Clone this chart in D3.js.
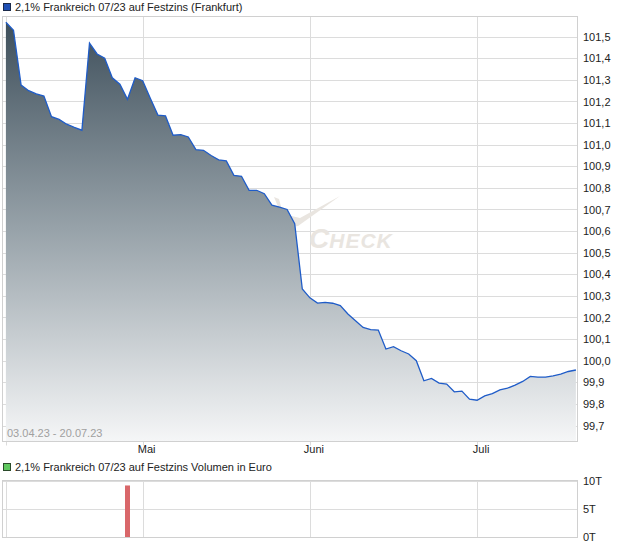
<!DOCTYPE html>
<html><head><meta charset="utf-8">
<script src="https://cdn.jsdelivr.net/npm/d3@7"></script>
<style>html,body{margin:0;padding:0;background:#fff;}svg{display:block;font-family:"Liberation Sans",Arial,sans-serif;}</style>
</head><body>
<svg id="c" width="620" height="546"></svg>
<script>
const title = "2,1% Frankreich 07/23 auf Festzins (Frankfurt)";
const volTitle = "2,1% Frankreich 07/23 auf Festzins Volumen in Euro";
const rangeLabel = "03.04.23 - 20.07.23";
const dates = [
 "03.04.23","04.04.23","05.04.23","06.04.23","11.04.23","12.04.23","13.04.23","14.04.23","17.04.23","18.04.23",
 "19.04.23","20.04.23","21.04.23","24.04.23","25.04.23","26.04.23","27.04.23","28.04.23",
 "02.05.23","03.05.23","04.05.23","05.05.23","08.05.23","09.05.23","10.05.23","11.05.23","12.05.23","15.05.23",
 "16.05.23","17.05.23","18.05.23","19.05.23","22.05.23","23.05.23","24.05.23","25.05.23","26.05.23","29.05.23",
 "30.05.23","31.05.23",
 "01.06.23","02.06.23","05.06.23","06.06.23","07.06.23","08.06.23","09.06.23","12.06.23","13.06.23","14.06.23",
 "15.06.23","16.06.23","19.06.23","20.06.23","21.06.23","22.06.23","23.06.23","26.06.23","27.06.23","28.06.23",
 "29.06.23","30.06.23",
 "03.07.23","04.07.23","05.07.23","06.07.23","07.07.23","10.07.23","11.07.23","12.07.23","13.07.23","14.07.23",
 "17.07.23","18.07.23","19.07.23","20.07.23"];
const prices = [
 101.567,101.530,101.276,101.250,101.235,101.225,101.130,101.117,101.095,101.080,
 101.067,101.470,101.420,101.400,101.310,101.280,101.210,101.310,
 101.296,101.215,101.137,101.133,101.044,101.047,101.036,100.977,100.974,100.950,
 100.930,100.925,100.858,100.854,100.789,100.789,100.773,100.720,100.711,100.700,
 100.634,100.332,
 100.291,100.267,100.270,100.266,100.255,100.216,100.185,100.154,100.144,100.142,
 100.054,100.065,100.046,100.031,100.000,99.907,99.918,99.896,99.892,99.856,
 99.859,99.822,
 99.817,99.837,99.848,99.865,99.873,99.887,99.904,99.927,99.924,99.924,
 99.930,99.938,99.950,99.957];
const volumes = [
 0,0,0,0,0,0,0,0,0,0, 0,0,0,0,0,0,9200,0,
 0,0,0,0,0,0,0,0,0,0, 0,0,0,0,0,0,0,0,0,0, 0,0,
 0,0,0,0,0,0,0,0,0,0, 0,0,0,0,0,0,0,0,0,0, 0,0,
 0,0,0,0,0,0,0,0,0,0, 0,0,0,0];
const priceTicks = [101.5,101.4,101.3,101.2,101.1,101.0,100.9,100.8,100.7,100.6,100.5,100.4,100.3,100.2,100.1,100.0,99.9,99.8,99.7];
const monthNames = ["April","Mai","Juni","Juli"];
const volTicks = [0,5000,10000];
const volTickLabels = ["0T","5T","10T"];

const svg = d3.select("#c");
const L = 2.5, R = 577.5, T = 16.5, B = 441.5;
const VT = 480.5, VB = 537.5;

const x = d3.scalePoint().domain(dates).range([5.9, 575.9]);
const y = d3.scaleLinear().domain([99.7, 101.5]).range([425.5, 36.7]);
const yv = d3.scaleLinear().domain([0, 10000]).range([537, 481]);

// month starts
const monthStarts = [];
dates.forEach((d, i) => {
  const m = +d.slice(3,5);
  if (i === 0 || m !== +dates[i-1].slice(3,5)) monthStarts.push({d, label: monthNames[m-4], first: i === 0});
});

const fmt = v => d3.format(".1f")(v).replace(".", ",");

// legend 1
svg.append("rect").attr("x",3.5).attr("y",3.5).attr("width",7).attr("height",7).attr("fill","#1f4fb4").attr("stroke","#1b2a4a");
svg.append("text").attr("x",15).attr("y",11).attr("font-size",11).attr("fill","#222").text(title);

// grid main
const g = svg.append("g");
g.selectAll("line.h").data(priceTicks).join("line")
  .attr("x1",L).attr("x2",R).attr("y1",d=>Math.round(y(d))+0.5).attr("y2",d=>Math.round(y(d))+0.5)
  .attr("stroke","#dcdcdc");
g.selectAll("line.v").data(monthStarts).join("line")
  .attr("x1",d=>Math.round(x(d.d))+0.5).attr("x2",d=>Math.round(x(d.d))+0.5).attr("y1",T).attr("y2",B+4)
  .attr("stroke","#dcdcdc");

// watermark
const wm = svg.append("g").attr("fill","#e9e5e0");
wm.append("path").attr("d","M274,197 L279,199 L283,214 L300,218 L340,196 L298,226 L287,228 Z");
const wt = wm.append("text").attr("x",309).attr("y",248).attr("font-style","italic").attr("font-weight","bold");
wt.append("tspan").attr("font-size",28).text("C");
wt.append("tspan").attr("font-size",21).attr("letter-spacing",1).text("HECK");

// gradient
const defs = svg.append("defs");
const grad = defs.append("linearGradient").attr("id","ag").attr("gradientUnits","userSpaceOnUse")
  .attr("x1",0).attr("y1",16).attr("x2",0).attr("y2",441);
grad.append("stop").attr("offset",0).attr("stop-color","#3c4d59");
grad.append("stop").attr("offset",0.5).attr("stop-color","#97a2a9");
grad.append("stop").attr("offset",1).attr("stop-color","#f5f6f7");

const area = d3.area().x((d,i)=>x(dates[i])).y0(B).y1(d=>y(d));
svg.append("path").datum(prices).attr("d",area).attr("fill","url(#ag)");
const line = d3.line().x((d,i)=>x(dates[i])).y(d=>y(d));
svg.append("path").datum(prices).attr("d",line).attr("fill","none").attr("stroke","#1f5cc8").attr("stroke-width",1.3);

// frame main
svg.append("rect").attr("x",L).attr("y",T).attr("width",R-L).attr("height",B-T).attr("fill","none").attr("stroke","#d0d0d0");

// y labels
svg.selectAll("text.yl").data(priceTicks).join("text").attr("class","yl")
  .attr("x",583).attr("y",d=>y(d)+4).attr("font-size",11).attr("fill","#222").text(fmt);

// range label
svg.append("text").attr("x",7).attr("y",437).attr("font-size",11).attr("fill","#a0a0a0").text(rangeLabel);

// month labels
svg.selectAll("text.ml").data(monthStarts.filter(d=>!d.first)).join("text").attr("class","ml")
  .attr("x",d=>x(d.d)+4).attr("y",453).attr("text-anchor","middle").attr("font-size",11).attr("fill","#222").text(d=>d.label);

// volume legend
svg.append("rect").attr("x",3.5).attr("y",463.5).attr("width",7).attr("height",7).attr("fill","#5fc85f").attr("stroke","#2a4a2a");
svg.append("text").attr("x",15).attr("y",471).attr("font-size",11).attr("fill","#222").text(volTitle);

// volume grid
const vg = svg.append("g");
vg.selectAll("line").data(volTicks).join("line")
  .attr("x1",L).attr("x2",R).attr("y1",d=>Math.round(yv(d))+0.5).attr("y2",d=>Math.round(yv(d))+0.5).attr("stroke","#dcdcdc");
svg.append("g").selectAll("line").data(monthStarts).join("line")
  .attr("x1",d=>Math.round(x(d.d))+0.5).attr("x2",d=>Math.round(x(d.d))+0.5).attr("y1",VT).attr("y2",VB)
  .attr("stroke","#dcdcdc");

// volume bars
svg.selectAll("rect.vb").data(volumes.map((v,i)=>({v,i})).filter(d=>d.v>0)).join("rect").attr("class","vb")
  .attr("x",d=>x(dates[d.i])-2.5).attr("width",5)
  .attr("y",d=>yv(d.v)).attr("height",d=>yv(0)-yv(d.v))
  .attr("fill",d=> d.i>0 && prices[d.i] < prices[d.i-1] ? "#d9676a" : "#5fb85f");

svg.append("rect").attr("x",L).attr("y",VT).attr("width",R-L).attr("height",VB-VT).attr("fill","none").attr("stroke","#d0d0d0");

svg.selectAll("text.vl").data(volTicks).join("text").attr("class","vl")
  .attr("x",583).attr("y",d=>yv(d)+4).attr("font-size",11).attr("fill","#222").text((d,i)=>volTickLabels[i]);
</script>
</body></html>
